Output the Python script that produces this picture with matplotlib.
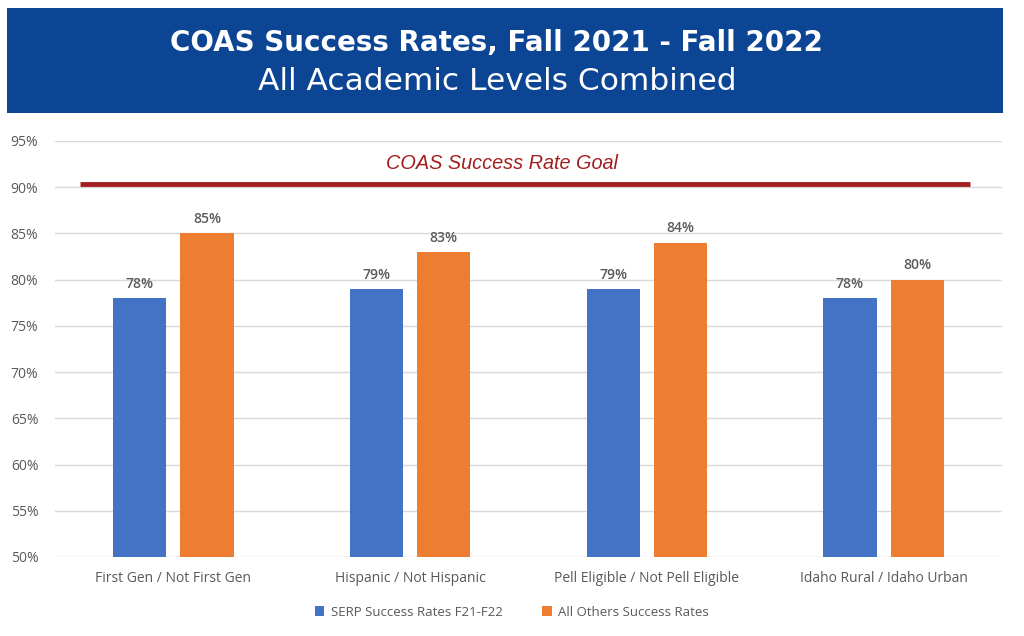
import matplotlib
matplotlib.use("Agg")
import matplotlib.pyplot as plt
from matplotlib.patches import Rectangle
import numpy as np

categories = ["First Gen / Not First Gen", "Hispanic / Not Hispanic",
              "Pell Eligible / Not Pell Eligible", "Idaho Rural / Idaho Urban"]
serp = [78, 79, 79, 78]
others = [85, 83, 84, 80]
series_names = ["SERP Success Rates F21-F22", "All Others Success Rates"]
goal = 90.3
yticks = [50, 55, 60, 65, 70, 75, 80, 85, 90, 95]

BLUE = "#4472C4"
ORANGE = "#ED7D31"
GRAY = "#595959"
RED = "#A31F1F"
HEADER = "#0D4595"

plt.rcParams['font.family'] = ['Open Sans', 'DejaVu Sans']

fig = plt.figure(figsize=(10.24, 6.36), dpi=100)
fig.patch.set_facecolor("white")

# header
fig.patches.append(Rectangle((7/1024, 1-113/636), 996/1024, 105/636,
                             transform=fig.transFigure, facecolor=HEADER,
                             edgecolor="none", zorder=0))
fig.text(496/1024, 1-43/636, "COAS Success Rates, Fall 2021 - Fall 2022",
         ha="center", va="center", color="white", fontsize=20,
         fontweight="bold", family=["DejaVu Sans"])
fig.text(497.5/1024, 1-81/636, "All Academic Levels Combined",
         ha="center", va="center", color="white", fontsize=22.5,
         family=["DejaVu Sans"], fontweight="normal")

ax = fig.add_axes([55/1024, 1-557/636, 947/1024, (557-141)/636])
x = np.arange(len(categories))
w = 0.224
off = 0.142
b1 = ax.bar(x - off, serp, w, color=BLUE, zorder=3, label=series_names[0])
b2 = ax.bar(x + off, others, w, color=ORANGE, zorder=3, label=series_names[1])

for bars, vals in ((b1, serp), (b2, others)):
    for r, v in zip(bars, vals):
        ax.text(r.get_x() + r.get_width()/2, v + 0.8, f"{v}%", ha="center",
                va="bottom", fontsize=10, color=GRAY, fontweight="semibold")

ax.set_ylim(50, 95)
ax.set_xlim(-0.5, len(categories) - 0.5)
ax.set_yticks(yticks)
ax.set_yticklabels([f"{t}%" for t in yticks])
ax.set_xticks(x)
ax.set_xticklabels(categories)
ax.tick_params(axis="both", length=0, colors=GRAY, labelsize=10)
ax.tick_params(axis="y", pad=12)
ax.tick_params(axis="x", pad=10)
ax.yaxis.grid(True, color="#D9D9D9", linewidth=1, zorder=0)
for s in ax.spines.values():
    s.set_visible(False)

ax.plot([-0.394, 3.366], [goal, goal], color=RED, linewidth=3.5, zorder=4,
        solid_capstyle="butt")
ax.text(1.387, 92.55, "COAS Success Rate Goal", ha="center", va="center",
        color=RED, fontsize=14.3, fontstyle="italic",
        family=["Liberation Sans", "DejaVu Sans"])

fig.legend(handles=[b1, b2], labels=series_names, loc="center",
           bbox_to_anchor=(0.5, 1-612/636), ncol=2, frameon=False,
           fontsize=9.5, handlelength=0.7, handleheight=0.7,
           columnspacing=3, handletextpad=0.5, labelcolor=GRAY)

fig.savefig("out.png", dpi=100, facecolor="white")
